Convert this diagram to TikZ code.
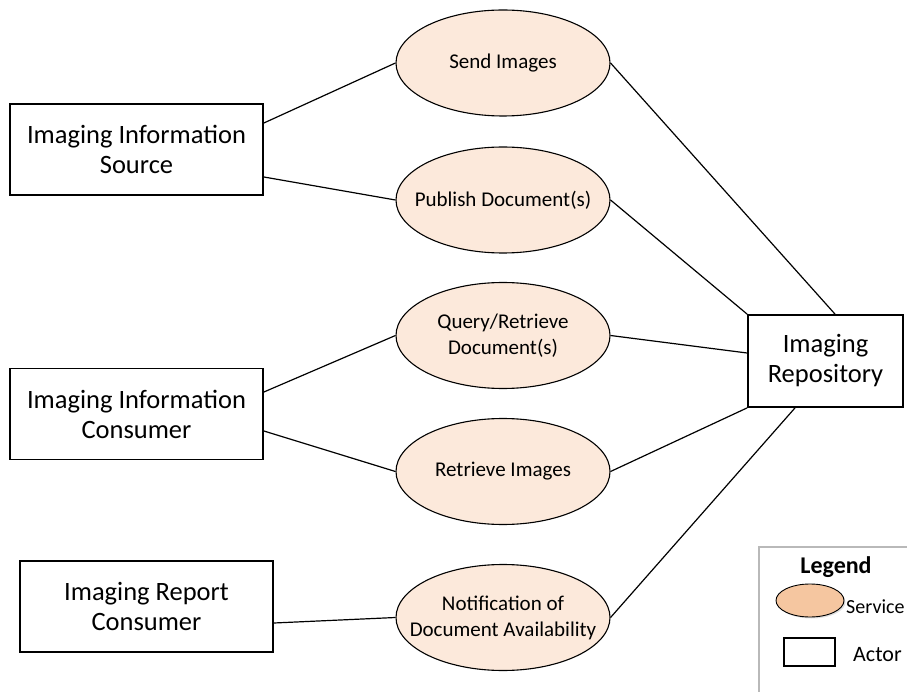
\documentclass[tikz,border=0pt]{standalone}
\usepackage{fontspec}
\setmainfont{Carlito}
\usetikzlibrary{shapes.geometric,shadows}

\definecolor{servicefill}{HTML}{FCE9DB}
\definecolor{legendfill}{HTML}{F5C6A0}

\tikzset{
  actor/.style={draw, line width=1.8pt, minimum width=253pt, minimum height=91pt,
    inner sep=0pt, align=center, font=\fontsize{26.5}{30}\selectfont},
  service/.style={ellipse, draw, line width=1.1pt, fill=servicefill,
    minimum width=214pt, minimum height=106pt, inner xsep=-25pt, inner ysep=-10pt,
    align=center, font=\fontsize{21}{26}\selectfont},
  link/.style={line width=1.2pt},
}

\begin{document}
\begin{tikzpicture}[x=1pt, y=-1pt]
  \useasboundingbox (0,0) rectangle (907,692);

  % Actors
  \node[actor] (src) at (136.5,149.5) {Imaging Information\\Source};
  \node[actor] (cons) at (136.5,414) {Imaging Information\\Consumer};
  \node[actor] (rep) at (146.5,606.5) {Imaging Report\\Consumer};
  \node[actor, minimum width=155pt, minimum height=92pt] (repo) at (825.5,361) {Imaging\\Repository};

  % Services
  \node[service] (send) at (503,63) {Send Images};
  \node[service] (pub) at (503,200) {Publish Document(s)};
  \node[service] (query) at (503,335.5) {Query/Retrieve\\Document(s)};
  \node[service] (retr) at (503,471.5) {Retrieve Images};
  \node[service] (notif) at (503,617.5) {Notification of\\Document Availability};

  % Actors to services
  \draw[link] ([yshift=26.5pt]src.east) -- (send.west);
  \draw[link] ([yshift=-27.5pt]src.east) -- (pub.west);
  \draw[link] ([yshift=22pt]cons.east) -- (query.west);
  \draw[link] ([yshift=-17pt]cons.east) -- (retr.west);
  \draw[link] ([yshift=-16.5pt]rep.east) -- (notif.west);

  % Services to repository
  \draw[link] (send.east) -- ([xshift=9.5pt]repo.north);
  \draw[link] (pub.east) -- (repo.north west);
  \draw[link] (query.east) -- ([yshift=8pt]repo.west);
  \draw[link] (retr.east) -- (repo.south west);
  \draw[link] (notif.east) -- ([xshift=-30.5pt]repo.south);

  % Legend
  \draw[gray!55, line width=1.5pt] (759,692) |- (907,547);
  \node[font=\bfseries\fontsize{24}{28}\selectfont] (legtitle) at (836,567) {Legend};
  \node[ellipse, draw, line width=0.9pt, fill=legendfill, minimum width=68pt,
    minimum height=33pt, inner sep=0pt,
    drop shadow={opacity=0.25, shadow xshift=1.5pt, shadow yshift=-1.5pt}] (legsvc) at (810,600.5) {};
  \node[anchor=west, inner sep=0pt, font=\fontsize{20}{24}\selectfont] (legsvctext) at (846,607) {Service};
  \node[draw, line width=1.5pt, minimum width=51pt, minimum height=28pt, inner sep=0pt] (legact) at (809.5,652) {};
  \node[anchor=west, inner sep=0pt, font=\fontsize{22}{26}\selectfont] (legacttext) at (853,655) {Actor};
\end{tikzpicture}
\end{document}
